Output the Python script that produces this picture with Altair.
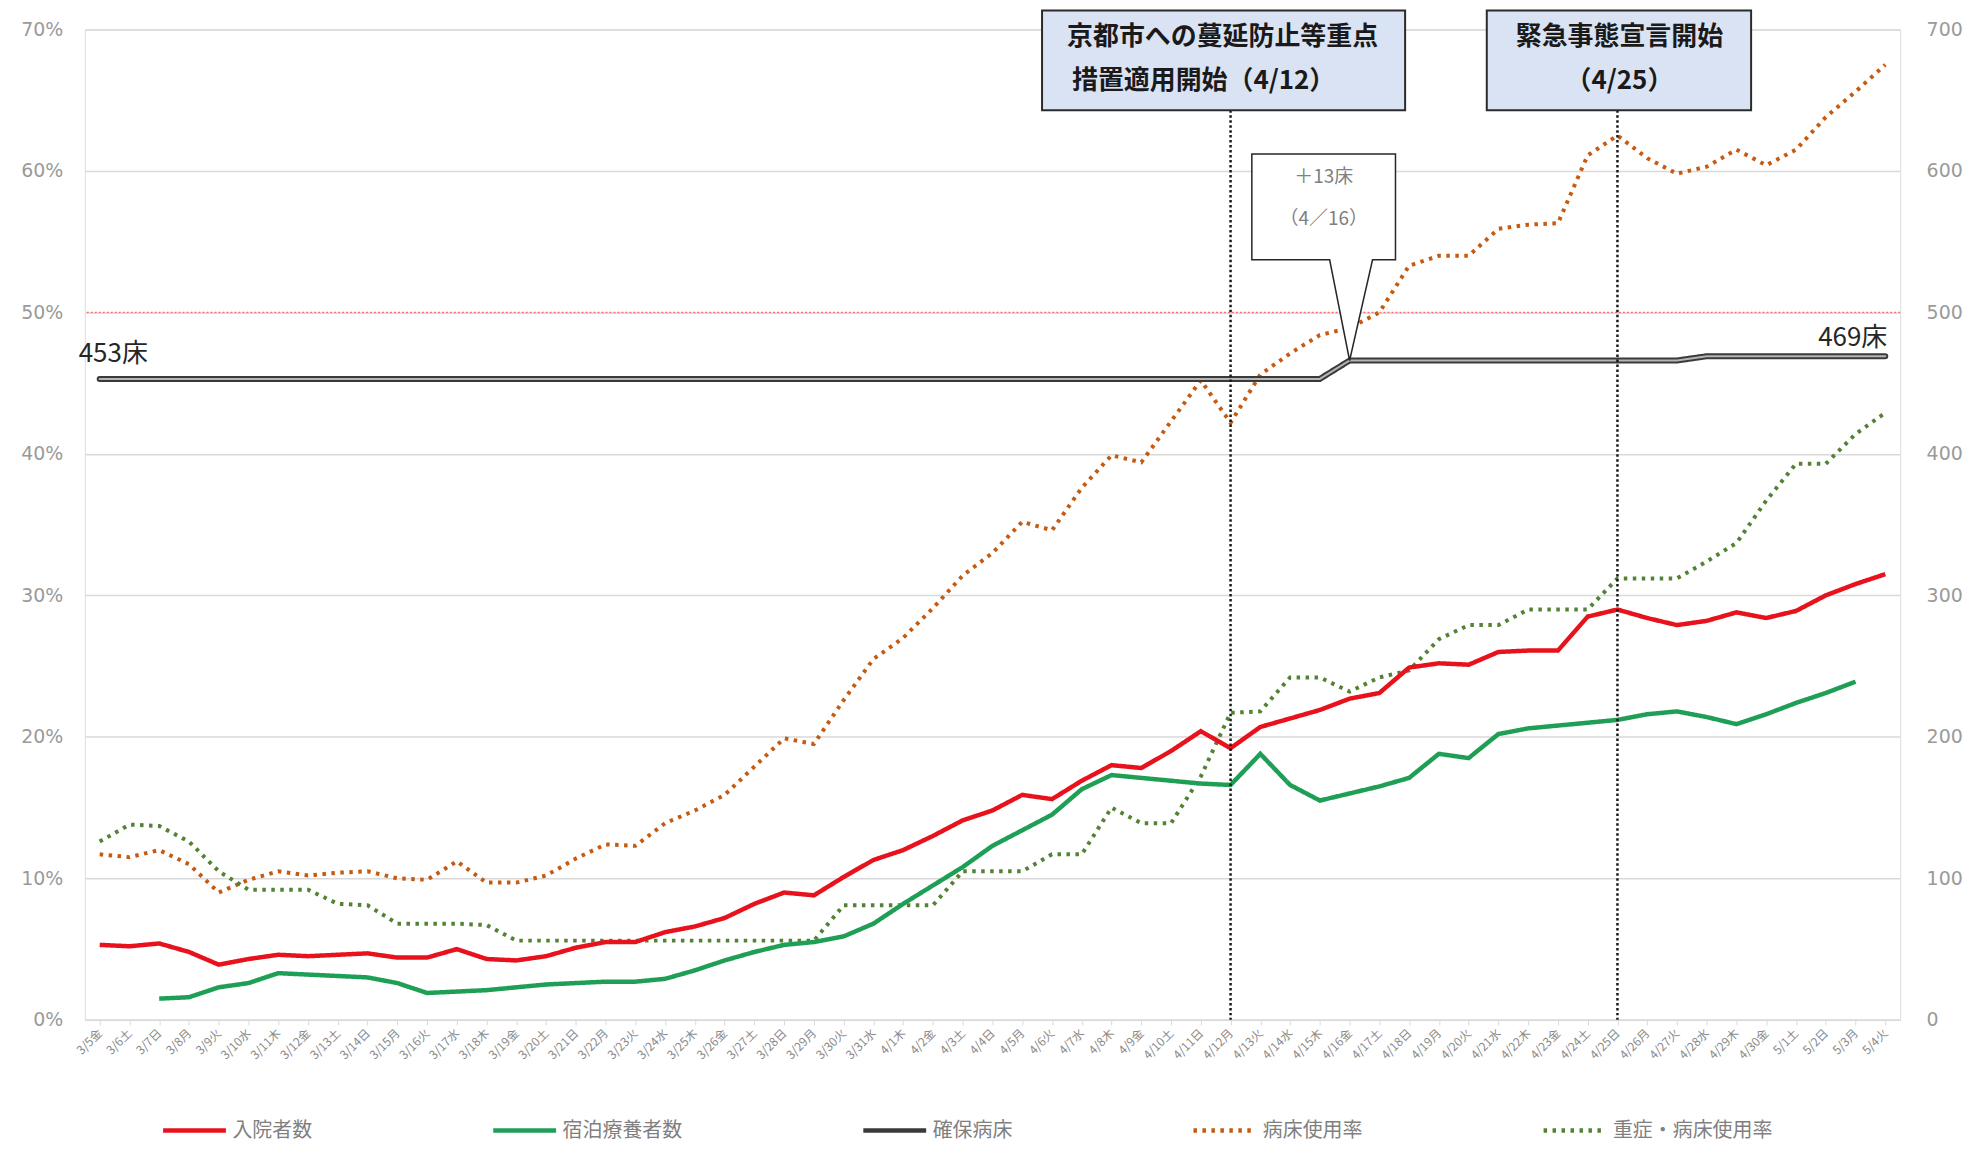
import altair as alt
import pandas as pd

JP = "Noto Sans CJK JP"

dates = ["3/5金", "3/6土", "3/7日", "3/8月", "3/9火", "3/10水", "3/11木", "3/12金", "3/13土", "3/14日",
         "3/15月", "3/16火", "3/17水", "3/18木", "3/19金", "3/20土", "3/21日", "3/22月", "3/23火", "3/24水",
         "3/25木", "3/26金", "3/27土", "3/28日", "3/29月", "3/30火", "3/31水", "4/1木", "4/2金", "4/3土",
         "4/4日", "4/5月", "4/6火", "4/7水", "4/8木", "4/9金", "4/10土", "4/11日", "4/12月", "4/13火",
         "4/14水", "4/15木", "4/16金", "4/17土", "4/18日", "4/19月", "4/20火", "4/21水", "4/22木", "4/23金",
         "4/24土", "4/25日", "4/26月", "4/27火", "4/28水", "4/29木", "4/30金", "5/1土", "5/2日", "5/3月",
         "5/4火"]

admitted = [53, 52, 54, 48, 39, 43, 46, 45, 46, 47,
            44, 44, 50, 43, 42, 45, 51, 55, 55, 62,
            66, 72, 82, 90, 88, 101, 113, 120, 130, 141,
            148, 159, 156, 169, 180, 178, 190, 204, 192, 207,
            213, 219, 227, 231, 249, 252, 251, 260, 261, 261,
            285, 290, 284, 279, 282, 288, 284, 289, 300, 308, 315]

hotel = [None, None, 15, 16, 23, 26, 33, 32, 31, 30,
         26, 19, 20, 21, 23, 25, 26, 27, 27, 29,
         35, 42, 48, 53, 55, 59, 68, 82, 95, 108,
         123, 134, 145, 163, 173, 171, 169, 167, 166, 188,
         166, 155, 160, 165, 171, 188, 185, 202, 206, 208,
         210, 212, 216, 218, 214, 209, 216, 224, 231, 239, None]

beds = [453] * 42 + [466] * 12 + [469] * 7

bed_rate = [11.7, 11.5, 12.0, 11.0, 9.0, 9.9, 10.5, 10.2, 10.4, 10.5,
            10.0, 9.9, 11.2, 9.7, 9.7, 10.2, 11.4, 12.4, 12.3, 13.9,
            14.8, 15.9, 17.9, 19.9, 19.5, 22.6, 25.5, 27.0, 29.1, 31.4,
            33.0, 35.2, 34.6, 37.6, 39.9, 39.4, 42.3, 45.2, 42.2, 45.6,
            47.1, 48.4, 48.9, 50.0, 53.3, 54.0, 54.0, 55.9, 56.2, 56.3,
            61.1, 62.5, 60.9, 59.8, 60.3, 61.5, 60.4, 61.5, 63.8, 65.6, 67.5]

severe_rate = [12.6, 13.8, 13.7, 12.6, 10.5, 9.2, 9.2, 9.2, 8.2, 8.1,
               6.8, 6.8, 6.8, 6.7, 5.6, 5.6, 5.6, 5.6, 5.6, 5.6,
               5.6, 5.6, 5.6, 5.6, 5.6, 8.1, 8.1, 8.1, 8.1, 10.5,
               10.5, 10.5, 11.7, 11.7, 15.0, 13.9, 13.9, 17.2, 21.7, 21.8,
               24.2, 24.2, 23.2, 24.2, 24.7, 26.9, 27.9, 27.9, 29.0, 29.0,
               29.0, 31.2, 31.2, 31.2, 32.4, 33.7, 36.7, 39.3, 39.3, 41.4, 42.9]

SERIES = ["入院者数", "宿泊療養者数", "確保病床", "病床使用率", "重症・病床使用率"]
COLORS = ["#e8121c", "#1e9f55", "#3a3a3a", "#c55a11", "#548235"]
DASHES = [[1, 0], [1, 0], [1, 0], [3.5, 5.5], [3.5, 5.5]]

rows = []
for name, vals in zip(SERIES, [admitted, hotel, beds, bed_rate, severe_rate]):
    for d, v in zip(dates, vals):
        if v is not None:
            rows.append({"date": d, "series": name, "value": v})
df = pd.DataFrame(rows)

W, H = 1820, 993

X = alt.X("date:N", sort=dates,
          scale=alt.Scale(type="point", domain=dates, padding=0.5),
          axis=alt.Axis(title=None, labelAngle=315, labelAlign="right", labelBaseline="middle",
                        labelFontSize=12, labelColor="#8a8a8a", labelFont=JP, labelPadding=6,
                        labelOverlap=False, domainColor="#d9d9d9", domainWidth=1.5,
                        tickColor="#d9d9d9", tickSize=5, grid=False))

PCT_SCALE = alt.Scale(domain=[0, 70], nice=False)
PCT_AXIS = alt.Axis(title=None, orient="left", values=list(range(0, 71, 10)),
                    labelExpr="datum.value + '%'", grid=True, gridColor="#d9d9d9", gridWidth=1.5,
                    domain=False, ticks=False, labelFont="DejaVu Sans", labelFontSize=19,
                    labelColor="#9a9a9a", labelPadding=22)
CNT_SCALE = alt.Scale(domain=[0, 700], nice=False)
CNT_AXIS = alt.Axis(title=None, orient="right", values=list(range(0, 701, 100)), grid=False,
                    domain=False, ticks=False, labelFont="DejaVu Sans", labelFontSize=19,
                    labelColor="#9a9a9a", labelPadding=26)
Ypct = alt.Y("value:Q", scale=PCT_SCALE, axis=PCT_AXIS)
Ycnt = alt.Y("value:Q", scale=CNT_SCALE, axis=CNT_AXIS)

LEG = alt.Legend(title=None, orient="none", legendX=76, legendY=1070, direction="horizontal",
                 columns=5, gridAlign="none", symbolType="stroke", symbolSize=3969,
                 symbolStrokeWidth=4.5, labelFont=JP, labelFontSize=20, labelColor="#808080",
                 columnPadding=172, labelOffset=4)
color = alt.Color("series:N", scale=alt.Scale(domain=SERIES, range=COLORS), legend=LEG)
dash = alt.StrokeDash("series:N", scale=alt.Scale(domain=SERIES, range=DASHES), legend=LEG)

base = alt.Chart(df)

# percent group (left axis)
line50 = alt.Chart(pd.DataFrame({"value": [50]})).mark_rule(
    color="#ff6b6b", strokeWidth=1.2, strokeDash=[2, 2]).encode(y=Ypct)
pct_lines = base.transform_filter(
    alt.FieldOneOfPredicate(field="series", oneOf=["病床使用率", "重症・病床使用率"])
).mark_line(strokeWidth=4).encode(x=X, y=Ypct, color=color, strokeDash=dash)
pct_group = alt.layer(line50, pct_lines)

# count group (right axis)
beds_outer = base.transform_filter(alt.datum.series == "確保病床").mark_line(
    strokeWidth=6, strokeCap="round").encode(x=X, y=Ycnt, color=color, strokeDash=dash)
beds_inner = base.transform_filter(alt.datum.series == "確保病床").mark_line(
    strokeWidth=2, color="#b5b5b5", strokeCap="round").encode(x=X, y=Ycnt)
cnt_lines = base.transform_filter(
    alt.FieldOneOfPredicate(field="series", oneOf=["入院者数", "宿泊療養者数"])
).mark_line(strokeWidth=4.5).encode(x=X, y=Ycnt, color=color, strokeDash=dash)

callout_df = pd.DataFrame({"date": ["4/16金"], "value": [466]})
callout = alt.Chart(callout_df).mark_point(
    shape="M0,0L-20,-101L-98,-101L-98,-207L46,-207L46,-101L23,-101Z",
    size=4, filled=True, fill="white", stroke="#262626", strokeWidth=1.5, opacity=1
).encode(x=X, y=Ycnt)
callout_t1 = alt.Chart(callout_df).mark_text(
    text="＋13床", font=JP, fontSize=19, color="#808080", dx=-26, dy=-184
).encode(x=X, y=Ycnt)
callout_t2 = alt.Chart(callout_df).mark_text(
    text="（4／16）", font=JP, fontSize=19, color="#808080", dx=-26, dy=-142
).encode(x=X, y=Ycnt)

lab_start = alt.Chart(pd.DataFrame({"date": ["3/5金"], "value": [453], "t": ["453床"]})).mark_text(
    align="left", baseline="alphabetic", dx=-21, dy=-17, font=JP, fontSize=26, color="#262626"
).encode(x=X, y=Ycnt, text="t:N")
lab_end = alt.Chart(pd.DataFrame({"date": ["5/4火"], "value": [469], "t": ["469床"]})).mark_text(
    align="right", baseline="alphabetic", dx=2, dy=-10, font=JP, fontSize=26, color="#262626"
).encode(x=X, y=Ycnt, text="t:N")

cnt_group = alt.layer(beds_outer, beds_inner, cnt_lines, callout, callout_t1, callout_t2,
                      lab_start, lab_end)

# event annotations
ev_df = pd.DataFrame({"date": ["4/12月", "4/25日"]})
ev_rules = alt.Chart(ev_df).mark_rule(
    color="#1a1a1a", strokeWidth=2.5, strokeDash=[2.5, 2.5]
).encode(x=X, y=alt.value(81), y2=alt.value(H))

box1 = alt.Chart(pd.DataFrame({"date": ["4/12月"]})).mark_point(
    shape="M-189,-50L175,-50L175,50L-189,50Z", size=4, filled=True, fill="#dae3f3",
    stroke="#2b2b2b", strokeWidth=2, opacity=1
).encode(x=X, y=alt.value(31))
box2 = alt.Chart(pd.DataFrame({"date": ["4/25日"]})).mark_point(
    shape="M-131,-50L134,-50L134,50L-131,50Z", size=4, filled=True, fill="#dae3f3",
    stroke="#2b2b2b", strokeWidth=2, opacity=1
).encode(x=X, y=alt.value(31))

ann_df = pd.DataFrame({
    "date": ["4/12月", "4/12月", "4/25日", "4/25日"],
    "t": ["京都市への蔓延防止等重点", "措置適用開始（4/12）", "緊急事態宣言開始", "（4/25）"],
})
def box_text(i, dx, ypix):
    return alt.Chart(ann_df.iloc[[i]]).mark_text(
        font=JP, fontSize=26, fontWeight="bold", color="#1a1a1a", dx=dx
    ).encode(x=X, y=alt.value(ypix), text="t:N")

texts = [box_text(0, -8, 8), box_text(1, -27, 52), box_text(2, 2, 8), box_text(3, 2, 52)]

chart = alt.layer(pct_group, cnt_group, ev_rules, box1, box2, *texts).resolve_scale(
    y="independent"
).properties(
    width=W, height=H,
    autosize=alt.AutoSizeParams(type="none"),
    padding={"left": 77, "top": 20, "right": 64, "bottom": 121},
).configure_view(strokeWidth=0, stroke="transparent").configure_axisY(
    domain=False
).configure(background="white")

chart.save("out.html", embed_options={"renderer": "svg", "actions": False})
